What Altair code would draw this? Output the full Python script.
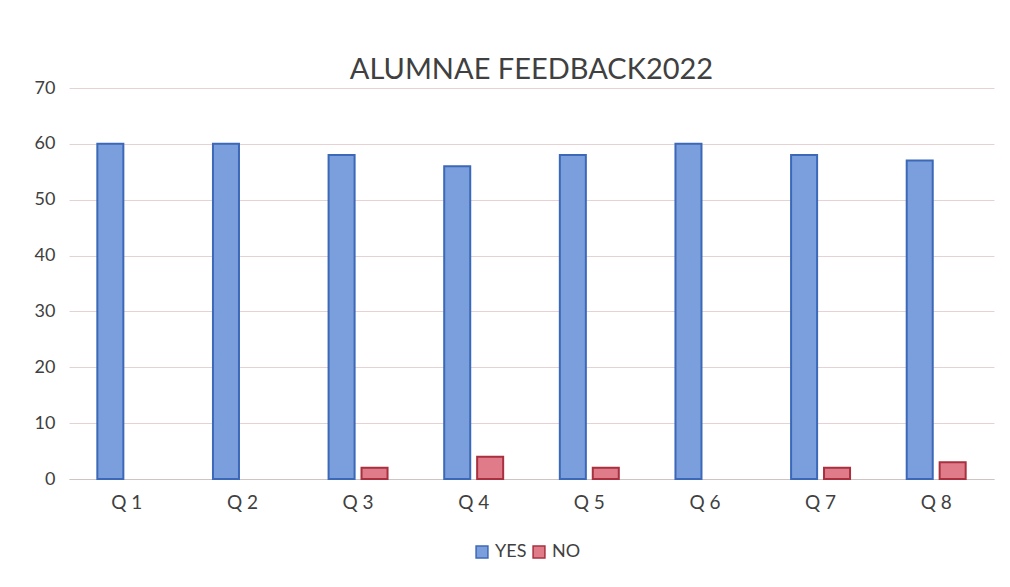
import altair as alt
import pandas as pd

questions = ["Q 1", "Q 2", "Q 3", "Q 4", "Q 5", "Q 6", "Q 7", "Q 8"]
yes_values = [60, 60, 58, 56, 58, 60, 58, 57]
no_values = [0, 0, 2, 4, 2, 0, 2, 3]
series = ["YES", "NO"]

rows = []
for q, y, n in zip(questions, yes_values, no_values):
    rows.append({"question": q, "series": "YES", "value": y})
    rows.append({"question": q, "series": "NO", "value": n})
df = pd.DataFrame(rows)

FONT = "Lato"

bars = alt.Chart(df).transform_filter("datum.value > 0").mark_bar(
    strokeWidth=2, strokeOpacity=1
).encode(
    x=alt.X("question:N", sort=questions,
            scale=alt.Scale(domain=questions, paddingInner=0.49, paddingOuter=0.245),
            axis=alt.Axis(title=None, labelAngle=0, labelFontSize=19, labelPadding=14,
                          labelColor="#404040", ticks=False, domain=True, grid=False,
                          domainColor="#cfc4c4", labelFont=FONT)),
    xOffset=alt.XOffset("series:N", sort=series,
                        scale=alt.Scale(domain=series, paddingInner=0.21, paddingOuter=0)),
    y=alt.Y("value:Q", scale=alt.Scale(domain=[0, 70]),
            axis=alt.Axis(title=None, values=[0, 10, 20, 30, 40, 50, 60, 70],
                          labelFontSize=18, labelPadding=14, labelColor="#404040",
                          ticks=False, domain=False, gridColor="#e6d2d2",
                          gridWidth=1, labelFont=FONT)),
    color=alt.Color("series:N", sort=series,
                    scale=alt.Scale(domain=series, range=["#7b9fdc", "#e07b89"]),
                    legend=alt.Legend(title=None, orient="none", legendX=404, legendY=455,
                                      direction="horizontal", symbolType="square",
                                      symbolSize=140, symbolStrokeWidth=1.5,
                                      labelFontSize=18, labelColor="#404040",
                                      labelFont=FONT, columnPadding=3)),
    stroke=alt.Stroke("series:N", sort=series,
                      scale=alt.Scale(domain=series, range=["#3c68b8", "#a8303f"]),
                      legend=None),
)

chart = bars.properties(
    width=925,
    height=391,
    background="white",
    title=alt.TitleParams("ALUMNAE FEEDBACK2022", fontSize=29, font=FONT,
                          fontWeight="normal", color="#404040", anchor="middle",
                          offset=8, dy=14),
    padding={"left": 26, "top": 48, "right": 5, "bottom": 5},
).configure_view(stroke=None)

chart.save("out.html", embed_options={"renderer": "svg", "actions": False})
